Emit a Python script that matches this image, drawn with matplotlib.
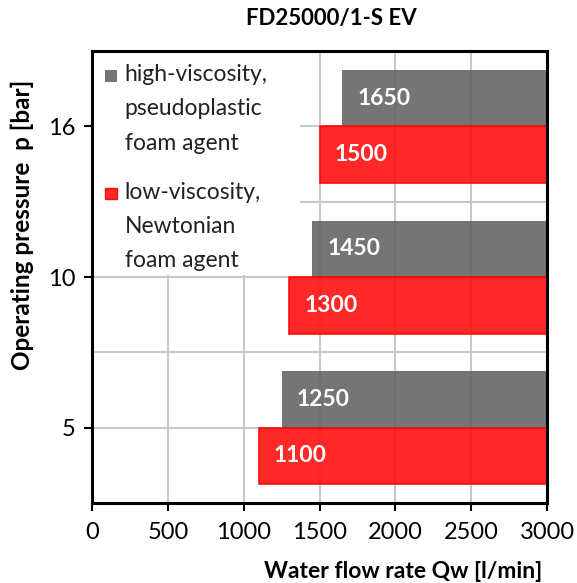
import numpy as np
import matplotlib
matplotlib.use("Agg")
import matplotlib.pyplot as plt
from matplotlib.patches import Rectangle

plt.rcParams['font.family'] = ['Lato', 'DejaVu Sans']

# data
pressures = ['5', '10', '16']
high_visc = [1250, 1450, 1650]
low_visc = [1100, 1300, 1500]
x_max = 3000
legend_labels = ['high-viscosity,\npseudoplastic\nfoam agent',
                 'low-viscosity,\nNewtonian\nfoam agent']
gray = '#666666'
red = '#ff1010'

fig = plt.figure(figsize=(5.77, 5.83), dpi=100)
ax = fig.add_axes([92 / 577, 80 / 583, 455 / 577, 452 / 583])

y = np.arange(len(pressures))
h = 0.375
hv = np.array(high_visc)
lv = np.array(low_visc)
ax.barh(y + h / 2, x_max - hv, left=hv, height=h, color=gray, alpha=0.9,
        linewidth=0, zorder=3)
ax.barh(y - h / 2, x_max - lv, left=lv, height=h, color=red, alpha=0.9,
        edgecolor='#ff0000', linewidth=1.2, zorder=3)

for yi, v in zip(y, hv):
    ax.text(v + 100, yi + h / 2, str(v), color='white', fontsize=16.5,
            fontweight='bold', va='center', ha='left', zorder=4)
for yi, v in zip(y, lv):
    ax.text(v + 100, yi - h / 2, str(v), color='white', fontsize=16.5,
            fontweight='bold', va='center', ha='left', zorder=4)

ax.set_xlim(0, x_max)
ax.set_ylim(-0.5, len(pressures) - 0.5)
ax.set_xticks(np.arange(0, x_max + 1, 500))
ax.set_yticks(y)
ax.set_yticklabels(pressures)
ax.tick_params(which='major', labelsize=17, length=6, width=1.5, color='black')
ax.tick_params(axis='x', pad=8)
ax.tick_params(axis='y', pad=6)
ax.grid(True, axis='x', color='#c8c8c8', linewidth=1.5, zorder=0)
for gy in np.arange(-0.5, len(pressures), 0.5):
    ax.axhline(gy, color='#c8c8c8', linewidth=1.5, zorder=0)
ax.set_axisbelow(True)
for sp in ax.spines.values():
    sp.set_linewidth(2.2)
    sp.set_zorder(6)

# legend drawn by hand: white box, square markers at first line
ax.add_patch(Rectangle((0, 0.505), 0.457, 0.495, transform=ax.transAxes,
                       facecolor='white', edgecolor='none', zorder=5))
leg_colors = [gray, red]
leg_y = [0.945, 0.685]
for c, ly, lab in zip(leg_colors, leg_y, legend_labels):
    ax.add_patch(Rectangle((0.029, ly - 0.013), 0.025, 0.026,
                           transform=ax.transAxes, facecolor=c, alpha=0.9,
                           edgecolor='#ff0000' if c == red else 'none',
                           linewidth=1, zorder=6))
    ax.text(0.072, ly + 0.026, lab, transform=ax.transAxes, fontsize=16.5,
            va='top', ha='left', linespacing=1.78, color='#222222', zorder=6)

fig.text(331 / 577, 1 - 18 / 583, 'FD25000/1-S EV', ha='center', va='center',
         fontsize=16, fontweight='bold')
fig.text(403 / 577, 1 - 571 / 583, 'Water flow rate Qw [l/min]', ha='center',
         va='center', fontsize=16.5, fontweight='bold')
fig.text(22 / 577, 1 - 225 / 583, 'Operating pressure  p [bar]', ha='center',
         va='center', rotation=90, fontsize=17.5, fontweight='bold')

fig.savefig('out.png', dpi=100)
